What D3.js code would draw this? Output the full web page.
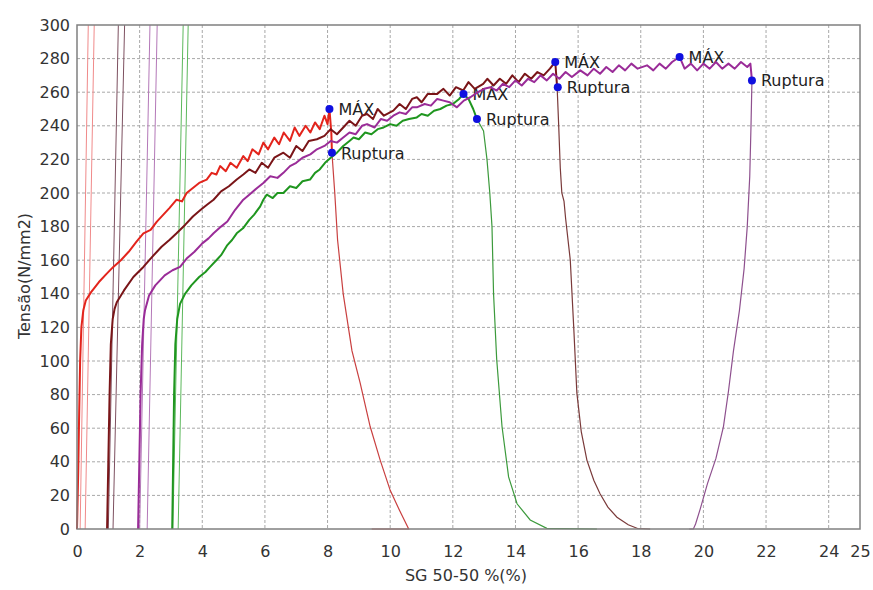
<!DOCTYPE html>
<html>
<head>
<meta charset="utf-8">
<script src="https://cdn.jsdelivr.net/npm/d3@7"></script>
<style>
  body { margin: 0; background: #fff; }
  svg { display: block; }
  text { font-family: "DejaVu Sans", sans-serif; }
</style>
</head>
<body>
<div id="container"></div>
<script>
const width = 873;
const height = 590;

// axis ticks
const xTicks = [0, 2, 4, 6, 8, 10, 12, 14, 16, 18, 20, 22, 24, 25];
const yTicks = [0, 20, 40, 60, 80, 100, 120, 140, 160, 180, 200, 220, 240, 260, 280, 300];

// curves: [strain %, tension N/mm2]
const redCurve = [[0,0],[0.04,35],[0.07,70],[0.10,100],[0.14,120],[0.20,130],[0.28,136],[0.45,141],[0.7,147],[0.95,152],
  [1.16,156],[1.4,160],[1.65,165],[1.9,171],[2.12,176],[2.35,178],[2.55,183],[2.75,187],[2.95,191],[3.18,196],[3.35,195],
  [3.5,200],[3.7,203],[3.9,206],[4.14,208],[4.3,212],[4.45,211],[4.57,216],[4.75,213],[4.9,218],[5.1,215],[5.31,222],
  [5.45,219],[5.6,226],[5.8,223],[5.95,230],[6.1,226],[6.3,233],[6.45,229],[6.6,236],[6.8,231],[6.95,239],[7.1,234],
  [7.3,240],[7.45,236],[7.6,242],[7.75,238],[7.9,246],[8.0,241],[8.06,250],[8.12,236],[8.14,224]];
const redDrop = [[8.14,224],[8.23,200],[8.32,172],[8.5,140],[8.78,106],[9.04,87],[9.36,61],[9.68,41],[10.0,23],[10.3,11],[10.59,0],[9.41,0]];

const maroonCurve = [[0.96,0],[1.0,40],[1.04,80],[1.08,110],[1.14,125],[1.2,131],[1.27,135],[1.5,142],[1.8,150],[2.12,156],
  [2.4,162],[2.7,168],[2.95,172],[3.18,176],[3.45,181],[3.7,186],[3.95,190],[4.15,193],[4.36,196],[4.6,201],[4.85,204],
  [5.1,208],[5.31,211],[5.5,214],[5.7,212],[5.9,218],[6.1,215],[6.3,221],[6.59,224],[6.8,221],[7.0,228],[7.2,225],[7.4,231],
  [7.66,232],[7.9,234],[8.1,238],[8.3,235],[8.5,239],[8.7,243],[8.9,240],[9.1,246],[9.26,247],[9.45,244],[9.6,250],
  [9.8,246],[10.1,249],[10.3,253],[10.5,250],[10.7,256],[10.85,257],[11.0,254],[11.2,259],[11.5,259],[11.7,262],
  [11.9,258],[12.1,263],[12.33,261],[12.5,266],[12.7,262],[12.97,265],[13.1,268],[13.3,264],[13.5,268],[13.7,265],
  [13.9,270],[14.1,266],[14.3,271],[14.5,268],[14.7,272],[14.9,270],[15.1,274],[15.27,278],[15.33,263]];
const maroonDrop = [[15.33,263],[15.38,240],[15.43,215],[15.48,200],[15.55,195],[15.6,185],[15.75,160],[15.86,120],
  [15.96,81],[16.1,58],[16.28,41],[16.5,29],[16.7,21],[16.95,13],[17.24,7],[17.6,2.5],[17.9,0.3],[18.3,0]];

const purpleCurve = [[1.95,0],[1.99,40],[2.03,80],[2.08,110],[2.13,125],[2.17,130],[2.3,139],[2.5,145],[2.8,151],[3.05,154],
  [3.29,156],[3.5,161],[3.75,165],[4.0,170],[4.2,173],[4.36,176],[4.6,180],[4.8,183],[5.05,190],[5.31,196],[5.5,199],
  [5.75,203],[5.95,206],[6.17,210],[6.4,209],[6.59,212],[6.8,216],[7.0,218],[7.2,221],[7.45,223],[7.66,226],[7.9,228],
  [8.1,231],[8.3,230],[8.5,233],[8.7,236],[8.9,235],[9.1,240],[9.26,241],[9.5,239],[9.7,244],[9.9,243],[10.1,246],
  [10.3,248],[10.5,247],[10.7,251],[10.85,251],[11.1,253],[11.3,252],[11.5,256],[11.7,255],[11.9,254],[12.13,251],
  [12.35,255],[12.56,257],[12.8,260],[13.0,262],[13.2,263],[13.4,261],[13.6,265],[13.8,263],[14.0,267],[14.2,264],
  [14.4,268],[14.6,266],[14.8,270],[15.0,267],[15.2,271],[15.4,268],[15.6,272],[15.8,269],[16.07,273],[16.3,270],
  [16.5,274],[16.7,271],[16.9,275],[17.1,272],[17.3,276],[17.5,273],[17.7,277],[17.9,274],[18.2,276],[18.4,273],
  [18.6,277],[18.8,274],[19.0,278],[19.24,281],[19.4,274],[19.6,277],[19.8,273],[20.0,277],[20.2,274],[20.4,278],
  [20.6,274],[20.8,277],[21.0,274],[21.2,278],[21.4,275],[21.5,277],[21.55,267]];
const purpleDrop = [[21.55,267],[21.52,240],[21.48,210],[21.4,180],[21.3,155],[21.15,130],[20.96,106],[20.8,82],
  [20.64,61],[20.4,42],[20.13,27],[19.9,12],[19.75,3],[19.68,0],[19.55,0]];

const greenCurve = [[3.04,0],[3.07,40],[3.1,80],[3.14,110],[3.2,125],[3.29,134],[3.45,140],[3.65,145],[3.9,150],[4.1,153],
  [4.25,156],[4.45,160],[4.6,163],[4.8,169],[4.95,172],[5.1,176],[5.3,179],[5.5,184],[5.65,187],[5.85,192],[5.95,196],
  [6.06,199],[6.25,197],[6.4,200],[6.59,200],[6.8,204],[7.0,203],[7.2,207],[7.44,208],[7.6,212],[7.75,214],[7.92,218],
  [8.1,221],[8.3,224],[8.5,228],[8.7,231],[8.83,233],[9.0,232],[9.2,236],[9.4,235],[9.6,238],[9.79,239],[10.0,241],
  [10.2,240],[10.4,243],[10.6,244],[10.85,245],[11.0,247],[11.2,246],[11.4,249],[11.6,250],[11.8,252],[12.0,253],
  [12.2,256],[12.34,259],[12.5,256],[12.65,250],[12.77,244]];
const greenDrop = [[12.77,244],[12.98,237],[13.09,220],[13.18,200],[13.25,180],[13.3,140],[13.4,101],[13.57,61],
  [13.78,31],[14.05,15],[14.47,5.4],[15.0,0.4],[16.6,0]];

// straight elastic reference lines: [x at 0, x at 300]
const redLines = [[0.10, 0.36], [0.26, 0.55]];
const maroonLines = [[1.00, 1.32], [1.15, 1.52]];
const purpleLines = [[2.00, 2.33], [2.24, 2.56]];
const greenLines = [[3.06, 3.39], [3.23, 3.55]];

// max / rupture points
const markers = [
  { label: "MÁX", x: 8.06, y: 250 },
  { label: "Ruptura", x: 8.14, y: 224 },
  { label: "MÁX", x: 12.34, y: 259 },
  { label: "Ruptura", x: 12.77, y: 244 },
  { label: "MÁX", x: 15.27, y: 278 },
  { label: "Ruptura", x: 15.35, y: 263 },
  { label: "MÁX", x: 19.24, y: 281 },
  { label: "Ruptura", x: 21.55, y: 267 }
];

const series = [
  { curve: redCurve, drop: redDrop, lines: redLines, color: "#e3241c", thin: "#f08a8a", dropColor: "#c94040" },
  { curve: maroonCurve, drop: maroonDrop, lines: maroonLines, color: "#7a1518", thin: "#7d5060", dropColor: "#7a3a3a" },
  { curve: greenCurve, drop: greenDrop, lines: greenLines, color: "#1f961f", thin: "#5cb85c", dropColor: "#3c9a3c" },
  { curve: purpleCurve, drop: purpleDrop, lines: purpleLines, color: "#9a2c98", thin: "#b478b8", dropColor: "#8e508e" }
];

const x = d3.scaleLinear().domain([0, 25]).range([77, 860]);
const y = d3.scaleLinear().domain([0, 300]).range([529, 25]);

const svg = d3.select("#container").append("svg")
  .attr("width", width)
  .attr("height", height);

// grid
svg.append("g")
  .selectAll("line")
  .data(xTicks.filter(d => d > 0 && d < 25))
  .join("line")
  .attr("x1", d => x(d)).attr("x2", d => x(d))
  .attr("y1", y(300)).attr("y2", y(0))
  .attr("stroke", "#a8a8a8")
  .attr("stroke-dasharray", "3,2");
svg.append("g")
  .selectAll("line")
  .data(yTicks.filter(d => d > 0 && d < 300))
  .join("line")
  .attr("x1", x(0)).attr("x2", x(25))
  .attr("y1", d => y(d)).attr("y2", d => y(d))
  .attr("stroke", "#a8a8a8")
  .attr("stroke-dasharray", "3,2");

// axes
const xAxis = svg.append("g")
  .attr("transform", `translate(0,${y(0)})`)
  .call(d3.axisBottom(x).tickValues(xTicks).tickSize(0).tickPadding(17).tickFormat(d3.format("d")));
const yAxis = svg.append("g")
  .attr("transform", `translate(${x(0)},0)`)
  .call(d3.axisLeft(y).tickValues(yTicks).tickSize(0).tickPadding(7).tickFormat(d3.format("d")));
[xAxis, yAxis].forEach(a => {
  a.select(".domain").remove();
  a.selectAll("text")
    .attr("font-family", "DejaVu Sans")
    .attr("font-size", 16)
    .attr("fill", "#333");
});

svg.append("text")
  .attr("x", 466).attr("y", 581)
  .attr("text-anchor", "middle")
  .attr("font-size", 16)
  .attr("fill", "#333")
  .text("SG 50-50 %(%)");
svg.append("text")
  .attr("transform", "translate(30,276) rotate(-90)")
  .attr("text-anchor", "middle")
  .attr("font-size", 16)
  .attr("fill", "#333")
  .text("Tensão(N/mm2)");

// labels under the curves
svg.append("g")
  .selectAll("text")
  .data(markers)
  .join("text")
  .attr("x", d => x(d.x) + 9)
  .attr("y", d => y(d.y) + 6)
  .attr("font-size", 16)
  .attr("fill", "#222")
  .text(d => d.label);

const line = d3.line().x(d => x(d[0])).y(d => y(d[1]));

series.forEach(s => {
  svg.append("g")
    .selectAll("line")
    .data(s.lines)
    .join("line")
    .attr("x1", d => x(d[0])).attr("y1", y(0))
    .attr("x2", d => x(d[1])).attr("y2", y(300))
    .attr("stroke", s.thin)
    .attr("stroke-width", 1);
});

series.forEach(s => {
  svg.append("path")
    .datum(s.drop)
    .attr("fill", "none")
    .attr("stroke", s.dropColor)
    .attr("stroke-width", 1.2)
    .attr("d", line);
  svg.append("path")
    .datum(s.curve)
    .attr("fill", "none")
    .attr("stroke", s.color)
    .attr("stroke-width", 2)
    .attr("stroke-linejoin", "round")
    .attr("d", line);
});

// plot frame
svg.append("rect")
  .attr("x", x(0)).attr("y", y(300))
  .attr("width", x(25) - x(0)).attr("height", y(0) - y(300))
  .attr("fill", "none")
  .attr("stroke", "#808080")
  .attr("stroke-width", 1.5);

// dots
svg.append("g")
  .selectAll("circle")
  .data(markers)
  .join("circle")
  .attr("cx", d => x(d.x))
  .attr("cy", d => y(d.y))
  .attr("r", 4)
  .attr("fill", "#1010e0");
</script>
</body>
</html>
